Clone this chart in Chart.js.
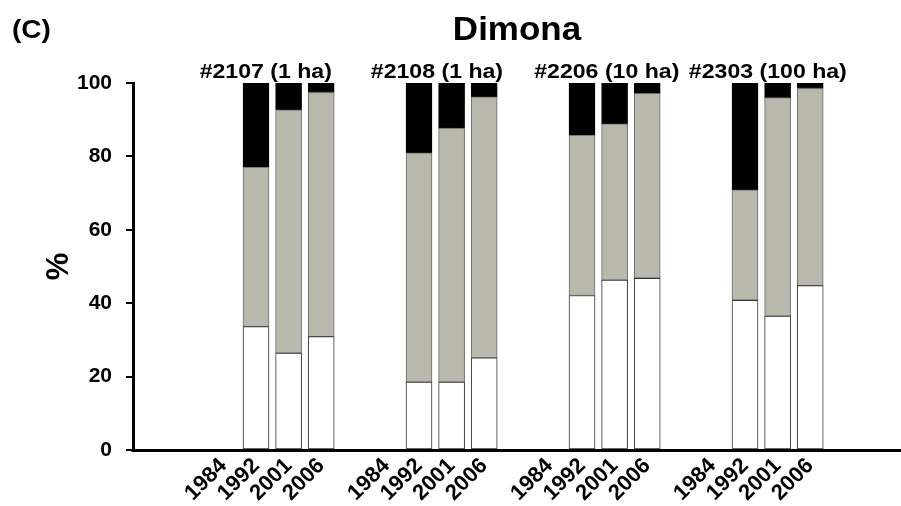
<!DOCTYPE html>
<html>
<head>
<meta charset="utf-8">
<script src="https://cdn.jsdelivr.net/npm/chart.js@4"></script>
<style>
  html, body { margin: 0; padding: 0; background: #fff; overflow: hidden; }
  #wrap { width: 901px; height: 506px; }
  canvas { display: block; }
</style>
</head>
<body>
<div id="wrap"><canvas id="dimonaChart" width="901" height="506"></canvas></div>
<script>
// plots and years
const groups = ["#2107 (1 ha)", "#2108 (1 ha)", "#2206 (10 ha)", "#2303 (100 ha)"];
const years = ["1984", "1992", "2001", "2006"];
const yTicks = [0, 20, 40, 60, 80, 100];

// stacked shares per plot, one entry per year (1984 has no data)
const whiteVals = [[null, 33.6, 26.4, 30.9], [null, 18.5, 18.5, 25.1], [null, 42.1, 46.3, 46.8], [null, 40.8, 36.5, 44.8]];
const grayVals = [[null, 43.5, 66.3, 66.5], [null, 62.5, 69.2, 71.1], [null, 43.7, 42.6, 50.4], [null, 30.1, 59.5, 53.7]];
const blackVals = [[null, 22.9, 7.3, 2.6], [null, 19.0, 12.3, 3.8], [null, 14.2, 11.1, 2.8], [null, 29.1, 4.0, 1.5]];

const SLOTS = 5; // 4 years + 1 empty slot between plots
const labelAt = [1.3, 1.55, 1.76, 1.7]; // where each plot name sits, in slots from its 1984 slot
const FONT = "'Liberation Sans', Arial, sans-serif";

const slotPos = [];
const slotLabel = {};
groups.forEach((g, gi) => {
  years.forEach((y, yi) => {
    const p = gi * SLOTS + yi;
    slotPos.push(p);
    slotLabel[p] = y;
  });
});

const toPoints = (vals) => {
  const pts = [];
  vals.forEach((row, gi) => {
    row.forEach((v, yi) => {
      if (v !== null) pts.push({ x: gi * SLOTS + yi, y: v });
    });
  });
  return pts;
};

// reference text is a bit wider than plain Arial, so stretch it a little
const wideText = (ctx, text, x, y, sx) => {
  ctx.save();
  ctx.translate(x, y);
  ctx.scale(sx, 1);
  ctx.fillText(text, 0, 0);
  ctx.restore();
};

const textPlugin = {
  id: "texts",
  afterDraw(chart) {
    const ctx = chart.ctx;
    const area = chart.chartArea;
    const xs = chart.scales.x;
    ctx.save();

    // x axis line runs to the right edge
    ctx.strokeStyle = "#000";
    ctx.lineWidth = 3;
    ctx.beginPath();
    ctx.moveTo(area.left - 1.5, area.bottom + 0.5);
    ctx.lineTo(chart.width, area.bottom + 0.5);
    ctx.stroke();

    ctx.fillStyle = "#000";
    ctx.textBaseline = "alphabetic";

    ctx.font = "bold 25px " + FONT;
    ctx.textAlign = "left";
    wideText(ctx, "(C)", 12, 38, 1.12);

    ctx.font = "bold 33px " + FONT;
    ctx.textAlign = "center";
    wideText(ctx, "Dimona", (area.left + area.right) / 2, 40, 1.06);

    ctx.font = "bold 21px " + FONT;
    groups.forEach((g, gi) => {
      const cx = xs.getPixelForValue(gi * SLOTS + labelAt[gi]);
      wideText(ctx, g, cx, 78, 1.1);
    });
    ctx.restore();
  }
};

const ctx = document.getElementById("dimonaChart").getContext("2d");
new Chart(ctx, {
  type: "bar",
  data: {
    datasets: [
      {
        label: "white",
        data: toPoints(whiteVals),
        backgroundColor: "#ffffff",
        borderColor: "#333333",
        borderWidth: 1,
        borderSkipped: false,
        barThickness: 26,
      },
      {
        label: "gray",
        data: toPoints(grayVals),
        backgroundColor: "#b8b8ac",
        borderColor: "#6a6a64",
        borderWidth: 1,
        borderSkipped: false,
        barThickness: 26,
      },
      {
        label: "black",
        data: toPoints(blackVals),
        backgroundColor: "#000000",
        borderColor: "#000000",
        borderWidth: 1,
        borderSkipped: false,
        barThickness: 26,
      },
    ],
  },
  options: {
    responsive: false,
    animation: false,
    layout: { padding: { top: 83, left: 0, right: 0, bottom: 0 } },
    scales: {
      x: {
        type: "linear",
        stacked: true,
        offset: false,
        min: -2.773,
        max: 20.785,
        grid: { display: false, drawTicks: false, offset: false },
        border: { display: false },
        afterBuildTicks: (scale) => {
          scale.ticks = slotPos.map((v) => ({ value: v }));
        },
        afterFit: (scale) => {
          scale.height = 56;
          scale.paddingLeft = 0;
          scale.paddingRight = 0;
        },
        ticks: {
          autoSkip: false,
          maxRotation: 45,
          minRotation: 45,
          padding: 3,
          color: "#000",
          font: { family: FONT, size: 22, weight: "bold" },
          callback: (value) => slotLabel[Math.round(value)] || "",
        },
      },
      y: {
        stacked: true,
        min: 0,
        max: 100,
        afterBuildTicks: (scale) => {
          scale.ticks = yTicks.map((v) => ({ value: v }));
        },
        afterFit: (scale) => {
          scale.width = 133;
          scale.paddingTop = 0;
          scale.paddingBottom = 0;
        },
        grid: {
          drawOnChartArea: false,
          drawTicks: true,
          tickLength: 7,
          lineWidth: 2,
          color: "#000",
        },
        border: { display: true, color: "#000", width: 3 },
        ticks: {
          padding: 14,
          color: "#000",
          font: { family: FONT, size: 21, weight: "bold" },
        },
        title: {
          display: true,
          text: "%",
          color: "#000",
          font: { family: FONT, size: 31, weight: "bold" },
          padding: { top: 41, bottom: 0 },
        },
      },
    },
    plugins: {
      legend: { display: false },
      tooltip: { enabled: false },
    },
  },
  plugins: [textPlugin],
});
</script>
</body>
</html>
